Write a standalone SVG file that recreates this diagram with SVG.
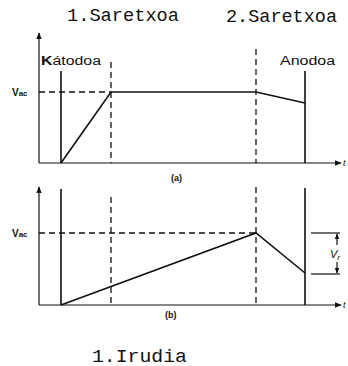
<svg xmlns="http://www.w3.org/2000/svg" width="348" height="366" viewBox="0 0 348 366">
<style>
.ln{stroke:#111;stroke-width:1.6;fill:none}
.ax{stroke:#111;stroke-width:1.2;fill:none}
.ds{stroke:#111;stroke-width:1.3;fill:none;stroke-dasharray:6,4}
.mono{font-family:"Liberation Mono","DejaVu Sans Mono",monospace;font-size:18px;fill:#111}
.sans{font-family:"Liberation Sans",Arial,sans-serif;fill:#111}
</style>
<defs>
<marker id="ah" viewBox="0 0 10 10" refX="9" refY="5" markerWidth="7" markerHeight="7" orient="auto" markerUnits="userSpaceOnUse">
<path d="M0,1 L10,5 L0,9 Z" fill="#111"/>
</marker>
<marker id="sa" viewBox="0 0 10 10" refX="9" refY="5" markerWidth="6" markerHeight="6" orient="auto" markerUnits="userSpaceOnUse">
<path d="M0,1 L10,5 L0,9 Z" fill="#111"/>
</marker>
</defs>

<g id="titles">
<text class="mono" x="67" y="21" textLength="112" lengthAdjust="spacingAndGlyphs">1.Saretxoa</text>
<text class="mono" x="226" y="22" textLength="111" lengthAdjust="spacingAndGlyphs">2.Saretxoa</text>
<text class="mono" x="92" y="362" textLength="95" lengthAdjust="spacingAndGlyphs">1.Irudia</text>
</g>

<g id="panel-a">
<line class="ax" x1="39" y1="163" x2="39" y2="33" marker-end="url(#ah)"/>
<line class="ax" x1="39" y1="163" x2="341" y2="163" marker-end="url(#ah)"/>
<text class="sans" x="343" y="166" font-size="9" font-style="italic">t</text>
<line class="ln" x1="61" y1="71" x2="61" y2="163"/>
<line class="ln" x1="305" y1="71" x2="305" y2="163"/>
<line class="ds" x1="111" y1="62" x2="111" y2="163"/>
<line class="ds" x1="256" y1="49" x2="256" y2="163"/>
<line class="ds" x1="39" y1="92" x2="111" y2="92"/>
<polyline class="ln" points="61,163 111,92 256,92 305,103"/>
<text class="sans" x="41" y="65" font-size="12" textLength="60" lengthAdjust="spacingAndGlyphs"><tspan font-weight="bold">K</tspan>átodoa</text>
<text class="sans" x="280" y="65" font-size="12" textLength="55" lengthAdjust="spacingAndGlyphs">Anodoa</text>
<text class="sans" x="12" y="96" font-size="10" font-weight="bold">V<tspan font-size="8">ac</tspan></text>
<text class="sans" x="171" y="181" font-size="9" font-weight="bold">(a)</text>
</g>

<g id="panel-b">
<line class="ax" x1="39" y1="305" x2="39" y2="187" marker-end="url(#ah)"/>
<line class="ax" x1="39" y1="305" x2="341" y2="305" marker-end="url(#ah)"/>
<text class="sans" x="343" y="308" font-size="9" font-style="italic">t</text>
<line class="ln" x1="61" y1="189" x2="61" y2="305"/>
<line class="ln" x1="305" y1="188" x2="305" y2="305"/>
<line class="ds" x1="111" y1="197" x2="111" y2="305"/>
<line class="ds" x1="256" y1="187" x2="256" y2="305"/>
<line class="ds" x1="39" y1="233" x2="256" y2="233"/>
<polyline class="ln" points="61,305 256,233 305,273"/>
<text class="sans" x="12" y="237" font-size="10" font-weight="bold">V<tspan font-size="8">ac</tspan></text>
<line class="ax" x1="311" y1="233" x2="340" y2="233"/>
<line class="ax" x1="311" y1="274" x2="340" y2="274"/>
<line class="ax" x1="337" y1="245" x2="337" y2="234" marker-end="url(#sa)"/>
<line class="ax" x1="337" y1="262" x2="337" y2="273" marker-end="url(#sa)"/>
<text class="sans" x="330" y="258" font-size="11" font-style="italic">V<tspan font-size="8" dy="2">r</tspan></text>
<text class="sans" x="165" y="318" font-size="9" font-weight="bold">(b)</text>
</g>
</svg>
